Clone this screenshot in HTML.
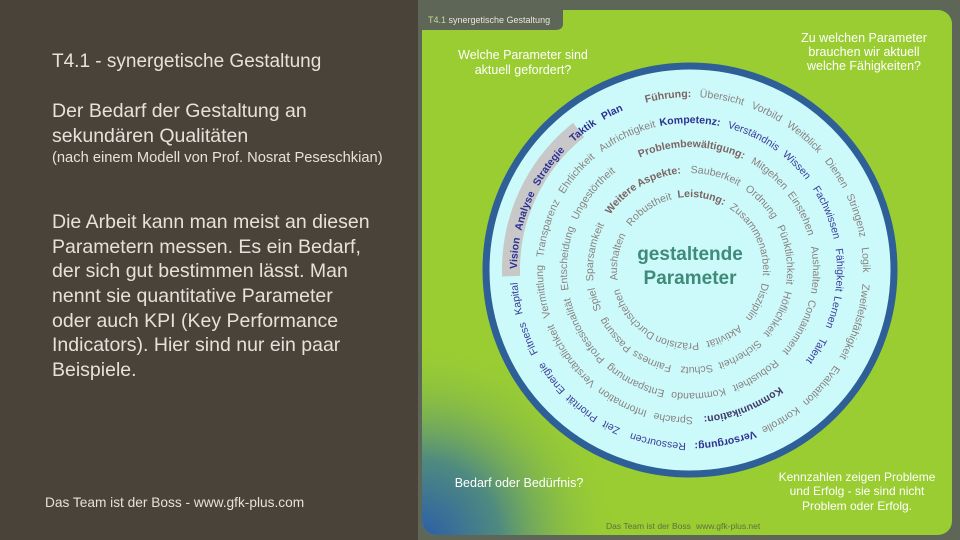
<!DOCTYPE html>
<html><head><meta charset="utf-8"><style>
html,body{margin:0;padding:0;background:#4a4339;}
svg{display:block}
</style></head><body>
<svg width="960" height="540" viewBox="0 0 960 540" xmlns="http://www.w3.org/2000/svg" font-family="Liberation Sans, sans-serif">
<defs>
<radialGradient id="bl" cx="420" cy="540" r="200" gradientUnits="userSpaceOnUse">
<stop offset="0" stop-color="#2a5ca8"/><stop offset="0.4" stop-color="#4f8a80"/><stop offset="1" stop-color="#9acd32" stop-opacity="0"/>
</radialGradient>
<path id="r1" d="M0,173 A173,173 0 1 1 0,-173 A173,173 0 1 1 0,173"/>
<path id="r2" d="M0,147 A147,147 0 1 1 0,-147 A147,147 0 1 1 0,147"/>
<path id="r3" d="M0,123 A123,123 0 1 1 0,-123 A123,123 0 1 1 0,123"/>
<path id="r4" d="M0,97 A97,97 0 1 1 0,-97 A97,97 0 1 1 0,97"/>
<path id="r5" d="M0,73 A73,73 0 1 1 0,-73 A73,73 0 1 1 0,73"/>
</defs>
<rect x="0" y="0" width="418" height="540" fill="#4a4339"/>
<rect x="418" y="0" width="542" height="540" fill="#5e6658"/>
<rect x="422" y="10" width="530" height="525" rx="14" fill="#9acd32"/>
<rect x="422" y="10" width="530" height="525" rx="14" fill="url(#bl)"/>
<path d="M420,8 H563 V24 Q563,30 555,30 H420 Z" fill="#5e6658"/>
<text x="428" y="23" font-size="9" fill="#e8e8d8"><tspan fill="#c8d890">T4.1</tspan> synergetische Gestaltung</text>

<g font-size="12.5" fill="#ffffff" text-anchor="middle">
<text x="523" y="59">Welche  Parameter sind</text>
<text x="523" y="74">aktuell gefordert?</text>
<text x="864" y="42">Zu welchen  Parameter</text>
<text x="864" y="56">brauchen wir aktuell</text>
<text x="864" y="70">welche Fähigkeiten?</text>
<text x="519" y="487">Bedarf oder Bedürfnis?</text>
</g>
<g font-size="12" fill="#ffffff" text-anchor="middle">
<text x="857" y="481">Kennzahlen zeigen Probleme</text>
<text x="857" y="495">und Erfolg - sie sind nicht</text>
<text x="857" y="510">Problem oder Erfolg.</text>
</g>
<text x="606" y="529" font-size="8.5" fill="#5e7040">Das Team ist der Boss</text>
<text x="696" y="529" font-size="8.5" fill="#5e7040">www.gfk-plus.net</text>

<g transform="translate(690,270)">
<circle r="204" fill="#ccfafa" stroke="#2e5f96" stroke-width="7"/>
<path d="M-178.9,6.2 A179,179 0 0 1 -111.4,-140.1" fill="none" stroke="#c8c8c8" stroke-width="18"/>
<text y="-10" font-size="19" font-weight="bold" fill="#3f8a78" text-anchor="middle">gestaltende</text>
<text y="14" font-size="19" font-weight="bold" fill="#3f8a78" text-anchor="middle">Parameter</text>

<g font-size="10.5" text-anchor="middle" fill="#8a8080">
<!-- ring 1 -->
<text transform="rotate(-7.2)" font-weight="bold" fill="#7d6464"><textPath href="#r1" startOffset="50%">Führung:</textPath></text>
<text transform="rotate(10.5)"><textPath href="#r1" startOffset="50%">Übersicht</textPath></text>
<text transform="rotate(25.9)"><textPath href="#r1" startOffset="50%">Vorbild</textPath></text>
<text transform="rotate(40.7)"><textPath href="#r1" startOffset="50%">Weitblick</textPath></text>
<text transform="rotate(56.5)"><textPath href="#r1" startOffset="50%">Dienen</textPath></text>
<text transform="rotate(71.9)"><textPath href="#r1" startOffset="50%">Stringenz</textPath></text>
<text transform="rotate(86.7)"><textPath href="#r1" startOffset="50%">Logik</textPath></text>
<text transform="rotate(107.4)"><textPath href="#r1" startOffset="50%">Zweifelsfähigkeit</textPath></text>
<text transform="rotate(131.4)"><textPath href="#r1" startOffset="50%">Evaluation</textPath></text>
<text transform="rotate(148.9)"><textPath href="#r1" startOffset="50%">Kontrolle</textPath></text>
<text transform="rotate(168.3)" font-weight="bold" fill="#2e3192"><textPath href="#r1" startOffset="50%">Versorgung:</textPath></text>
<g fill="#3a3a9a">
<text transform="rotate(190.6)"><textPath href="#r1" startOffset="50%">Ressourcen</textPath></text>
<text transform="rotate(206.6)"><textPath href="#r1" startOffset="50%">Zeit</textPath></text>
<text transform="rotate(218)"><textPath href="#r1" startOffset="50%">Priorität</textPath></text>
<text transform="rotate(232)"><textPath href="#r1" startOffset="50%">Energie</textPath></text>
<text transform="rotate(247)"><textPath href="#r1" startOffset="50%">Fitness</textPath></text>
<text transform="rotate(260.6)"><textPath href="#r1" startOffset="50%">Kapital</textPath></text>
</g>
<g fill="#2e3192" font-weight="bold">
<text transform="rotate(275.5)"><textPath href="#r1" startOffset="50%">Vision</textPath></text>
<text transform="rotate(289.7)"><textPath href="#r1" startOffset="50%">Analyse</textPath></text>
<text transform="rotate(306.3)"><textPath href="#r1" startOffset="50%">Strategie</textPath></text>
<text transform="rotate(322.5)"><textPath href="#r1" startOffset="50%">Taktik</textPath></text>
<text transform="rotate(333.7)"><textPath href="#r1" startOffset="50%">Plan</textPath></text>
</g>
<!-- ring 2 -->
<text transform="rotate(0)" font-weight="bold" fill="#2e3192"><textPath href="#r2" startOffset="50%">Kompetenz:</textPath></text>
<g fill="#3a3a9a">
<text transform="rotate(25.4)"><textPath href="#r2" startOffset="50%">Verständnis</textPath></text>
<text transform="rotate(45.5)"><textPath href="#r2" startOffset="50%">Wissen</textPath></text>
<text transform="rotate(67.2)"><textPath href="#r2" startOffset="50%">Fachwissen</textPath></text>
<text transform="rotate(90)"><textPath href="#r2" startOffset="50%">Fähigkeit</textPath></text>
<text transform="rotate(106.4)"><textPath href="#r2" startOffset="50%">Lernen</textPath></text>
<text transform="rotate(122.6)"><textPath href="#r2" startOffset="50%">Talent</textPath></text>
</g>
<text transform="rotate(158.6)" font-weight="bold" fill="#43386a"><textPath href="#r2" startOffset="50%">Kommunikation:</textPath></text>
<text transform="rotate(186.5)"><textPath href="#r2" startOffset="50%">Sprache</textPath></text>
<text transform="rotate(207.1)"><textPath href="#r2" startOffset="50%">Information</textPath></text>
<text transform="rotate(234.2)"><textPath href="#r2" startOffset="50%">Verständlichkeit</textPath></text>
<text transform="rotate(261.7)"><textPath href="#r2" startOffset="50%">Vermittlung</textPath></text>
<text transform="rotate(286.4)"><textPath href="#r2" startOffset="50%">Transparenz</textPath></text>
<text transform="rotate(310.4)"><textPath href="#r2" startOffset="50%">Ehrlichkeit</textPath></text>
<text transform="rotate(334.9)"><textPath href="#r2" startOffset="50%">Aufrichtigkeit</textPath></text>
<!-- ring 3 -->
<text transform="rotate(0.8)" font-weight="bold" fill="#7d6464"><textPath href="#r3" startOffset="50%">Problembewältigung:</textPath></text>
<text transform="rotate(39.5)"><textPath href="#r3" startOffset="50%">Mitgehen</textPath></text>
<text transform="rotate(63.1)"><textPath href="#r3" startOffset="50%">Einstehen</textPath></text>
<text transform="rotate(90)"><textPath href="#r3" startOffset="50%">Aushalten</textPath></text>
<text transform="rotate(117.6)"><textPath href="#r3" startOffset="50%">Containment</textPath></text>
<text transform="rotate(148.2)"><textPath href="#r3" startOffset="50%">Robustheit</textPath></text>
<text transform="rotate(176.1)"><textPath href="#r3" startOffset="50%">Kommando</textPath></text>
<text transform="rotate(206.2)"><textPath href="#r3" startOffset="50%">Entspannung</textPath></text>
<text transform="rotate(240.3)"><textPath href="#r3" startOffset="50%">Professionalität</textPath></text>
<text transform="rotate(275.4)"><textPath href="#r3" startOffset="50%">Entscheidung</textPath></text>
<text transform="rotate(308.3)"><textPath href="#r3" startOffset="50%">Ungestörtheit</textPath></text>
<!-- ring 4 -->
<text transform="rotate(329.7)" font-weight="bold" fill="#7d6464"><textPath href="#r4" startOffset="50%">Weitere Aspekte:</textPath></text>
<text transform="rotate(15.1)"><textPath href="#r4" startOffset="50%">Sauberkeit</textPath></text>
<text transform="rotate(46.4)"><textPath href="#r4" startOffset="50%">Ordnung</textPath></text>
<text transform="rotate(81)"><textPath href="#r4" startOffset="50%">Pünktlichkeit</textPath></text>
<text transform="rotate(116.6)"><textPath href="#r4" startOffset="50%">Höflichkeit</textPath></text>
<text transform="rotate(149.5)"><textPath href="#r4" startOffset="50%">Sicherheit</textPath></text>
<text transform="rotate(176.2)"><textPath href="#r4" startOffset="50%">Schutz</textPath></text>
<text transform="rotate(202.7)"><textPath href="#r4" startOffset="50%">Fairness</textPath></text>
<text transform="rotate(229)"><textPath href="#r4" startOffset="50%">Passung</textPath></text>
<text transform="rotate(252.8)"><textPath href="#r4" startOffset="50%">Spiel</textPath></text>
<text transform="rotate(280.7)"><textPath href="#r4" startOffset="50%">Sparsamkeit</textPath></text>
<!-- ring 5 -->
<text transform="rotate(9)" font-weight="bold" fill="#7d6464"><textPath href="#r5" startOffset="50%">Leistung:</textPath></text>
<text transform="rotate(63.4)"><textPath href="#r5" startOffset="50%">Zusammenarbeit</textPath></text>
<text transform="rotate(115.4)"><textPath href="#r5" startOffset="50%">Disziplin</textPath></text>
<text transform="rotate(152.9)"><textPath href="#r5" startOffset="50%">Aktivität</textPath></text>
<text transform="rotate(190)"><textPath href="#r5" startOffset="50%">Präzision</textPath></text>
<text transform="rotate(231.9)"><textPath href="#r5" startOffset="50%">Durchstehen</textPath></text>
<text transform="rotate(280.3)"><textPath href="#r5" startOffset="50%">Aushalten</textPath></text>
<text transform="rotate(326)"><textPath href="#r5" startOffset="50%">Robustheit</textPath></text>
</g>
</g>

<g fill="#e6e2da">
<text x="52" y="67" font-size="19">T4.1 -  synergetische Gestaltung</text>
<text x="52" y="117" font-size="19.5">Der Bedarf der Gestaltung an</text>
<text x="52" y="142" font-size="19.5">sekundären Qualitäten</text>
<text x="52" y="162" font-size="14.7">(nach einem Modell von Prof. Nosrat Peseschkian)</text>
<g font-size="19.5">
<text x="52" y="228">Die Arbeit kann man meist an diesen</text>
<text x="52" y="253">Parametern messen. Es ein Bedarf,</text>
<text x="52" y="277">der sich gut bestimmen lässt. Man</text>
<text x="52" y="302">nennt sie quantitative Parameter</text>
<text x="52" y="327">oder auch KPI (Key Performance</text>
<text x="52" y="351">Indicators). Hier sind nur ein paar</text>
<text x="52" y="376">Beispiele.</text>
</g>
<text x="45" y="507" font-size="13.7">Das Team ist der Boss - www.gfk-plus.com</text>
</g>
</svg>
</body></html>
